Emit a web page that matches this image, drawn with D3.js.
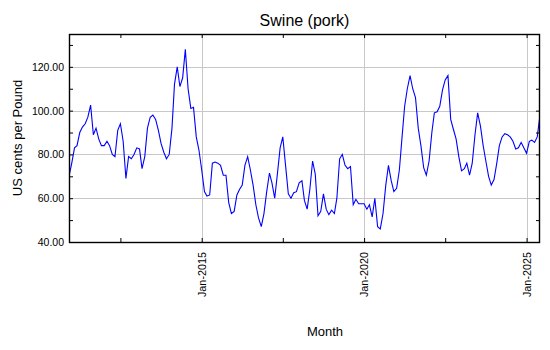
<!DOCTYPE html>
<html>
<head>
<meta charset="utf-8">
<script src="https://cdn.jsdelivr.net/npm/d3@7/dist/d3.min.js"></script>
<style>
  html, body { margin: 0; padding: 0; background: #fff; }
  svg { display: block; font-family: "Liberation Sans", Arial, sans-serif; }
</style>
</head>
<body>
<svg id="chart" width="550" height="350"></svg>
<script>
// ---- data ----
const title = "Swine (pork)";
const yTitle = "US cents per Pound";
const xTitle = "Month";
const startMonth = "2010-12"; // first monthly observation
const values = [
  70, 76, 83, 84, 90, 92.5, 94, 97, 102.5, 89, 92, 87,
  84, 84, 86, 84, 80, 79, 91, 94, 86, 69, 79, 78,
  80, 83, 82.5, 73.5, 79, 92, 97, 98, 96, 91, 85, 81,
  78, 80, 92, 112, 120, 111, 115, 128, 110, 101, 101.5, 88,
  82, 73, 63, 61, 61.5, 76, 76.5, 76, 75, 70.5, 70.5, 58,
  53, 54, 61.5, 64, 66, 75, 79, 73, 66, 57, 51, 47,
  53, 63, 71.5, 67, 60, 71, 83, 88, 75, 62, 60, 62.5,
  63, 67, 68, 59, 55, 64, 77, 71, 52, 54, 62, 55,
  52.5, 54.5, 53, 60, 78, 80, 75, 73.5, 74.5, 57, 59.5, 57.5,
  57.5, 57.5, 55, 57, 51.5, 60, 47, 46, 53, 66, 75, 68,
  63, 64.5, 73, 87, 102, 110, 116, 110, 106, 92, 84, 74,
  70.5, 77, 90, 99, 99.5, 102, 109.5, 114, 116, 96, 91.5, 87,
  79, 72.5, 73.5, 76, 70.5, 76, 89, 99, 93, 84, 77, 70,
  66, 68.5, 76, 84, 88, 89.5, 89, 88, 86, 82.5, 83, 85.5,
  83, 80.5, 86, 86.5, 85.5, 88, 98
];
const yMajorTicks = [40, 60, 80, 100, 120];
const yMinorTicks = [50, 70, 90, 110, 130];
const yDomain = [40, 135];
const xMajorMonths = ["2015-01", "2020-01", "2025-01"];
const xMinorMonths = ["2012-07", "2017-07", "2022-07"];

// ---- layout ----
const W = 550, H = 350;
const plot = { left: 69, right: 540, top: 34, bottom: 242 };
const parseMonth = d3.timeParse("%Y-%m");
const start = parseMonth(startMonth);
const data = values.map((v, i) => ({ date: d3.timeMonth.offset(start, i), value: v }));

const x = d3.scaleTime()
  .domain(d3.extent(data, d => d.date))
  .range([plot.left, plot.right]);
const y = d3.scaleLinear().domain(yDomain).range([plot.bottom, plot.top]);

const svg = d3.select("#chart");
svg.append("rect").attr("width", W).attr("height", H).attr("fill", "#fff");

const gridColor = "#c8c8c8";
const xMajorDates = xMajorMonths.map(parseMonth);
const xMinorDates = xMinorMonths.map(parseMonth);

// gridlines
const grid = svg.append("g");
grid.selectAll("line.h").data(yMajorTicks.filter(d => d > yDomain[0]))
  .join("line")
  .attr("x1", plot.left).attr("x2", plot.right)
  .attr("y1", d => Math.round(y(d)) + 0.5).attr("y2", d => Math.round(y(d)) + 0.5)
  .attr("stroke", gridColor).attr("stroke-width", 1);
grid.selectAll("line.v").data(xMajorDates)
  .join("line")
  .attr("y1", plot.top).attr("y2", plot.bottom)
  .attr("x1", d => Math.round(x(d)) + 0.5).attr("x2", d => Math.round(x(d)) + 0.5)
  .attr("stroke", gridColor).attr("stroke-width", 1);

// data line
svg.append("clipPath").attr("id", "clip")
  .append("rect").attr("x", plot.left).attr("y", plot.top)
  .attr("width", plot.right - plot.left).attr("height", plot.bottom - plot.top);
svg.append("path")
  .datum(data)
  .attr("clip-path", "url(#clip)")
  .attr("fill", "none")
  .attr("stroke", "#0000ff")
  .attr("stroke-width", 1.1)
  .attr("d", d3.line().x(d => x(d.date)).y(d => y(d.value)));

// axes
const fmt = d3.format(".2f");
const allY = yMajorTicks.concat(yMinorTicks).sort((a, b) => a - b);
const allX = xMajorDates.concat(xMinorDates).sort((a, b) => a - b);
const monthFmt = d3.timeFormat("%b-%Y");
const isMajorX = d => xMajorDates.some(m => +m === +d);

const axLeft = svg.append("g").attr("transform", `translate(${plot.left},0)`)
  .call(d3.axisLeft(y).tickValues(allY).tickSize(-4).tickPadding(5)
    .tickFormat(d => yMajorTicks.includes(d) ? fmt(d) : ""));
const axRight = svg.append("g").attr("transform", `translate(${plot.right},0)`)
  .call(d3.axisRight(y).tickValues(allY).tickSize(-4).tickFormat(""));
const axTop = svg.append("g").attr("transform", `translate(0,${plot.top})`)
  .call(d3.axisTop(x).tickValues(allX).tickSize(-4).tickFormat(""));
const axBottom = svg.append("g").attr("transform", `translate(0,${plot.bottom})`)
  .call(d3.axisBottom(x).tickValues(allX).tickSize(-4)
    .tickFormat(d => isMajorX(d) ? monthFmt(d) : ""));

[axLeft, axRight, axTop, axBottom].forEach(g => {
  g.select(".domain").remove();
  g.selectAll(".tick line").attr("stroke", "#000").attr("stroke-width", 1);
});
axLeft.selectAll("text")
  .attr("fill", "#000").style("font-size", "10.5px")
  .style("font-family", "'Liberation Sans', Arial, sans-serif");
axBottom.selectAll("text")
  .attr("fill", "#000").style("font-size", "10.8px")
  .style("font-family", "'Liberation Sans', Arial, sans-serif")
  .attr("transform", "rotate(-90)")
  .attr("x", -10).attr("y", 0).attr("dy", "0.35em")
  .style("text-anchor", "end");

// frame
svg.append("rect")
  .attr("x", plot.left + 0.5).attr("y", plot.top + 0.5)
  .attr("width", plot.right - plot.left - 1).attr("height", plot.bottom - plot.top)
  .attr("fill", "none").attr("stroke", "#000").attr("stroke-width", 1.4);

// titles
svg.append("text")
  .attr("x", (plot.left + plot.right) / 2).attr("y", 26)
  .attr("text-anchor", "middle").style("font-size", "16px").attr("fill", "#000")
  .text(title);
svg.append("text")
  .attr("transform", `translate(22,${(plot.top + plot.bottom) / 2}) rotate(-90)`)
  .attr("text-anchor", "middle").style("font-size", "13px").attr("fill", "#000")
  .text(yTitle);
svg.append("text")
  .attr("x", 325).attr("y", 336)
  .attr("text-anchor", "middle").style("font-size", "13px").attr("fill", "#000")
  .text(xTitle);
</script>
</body>
</html>
